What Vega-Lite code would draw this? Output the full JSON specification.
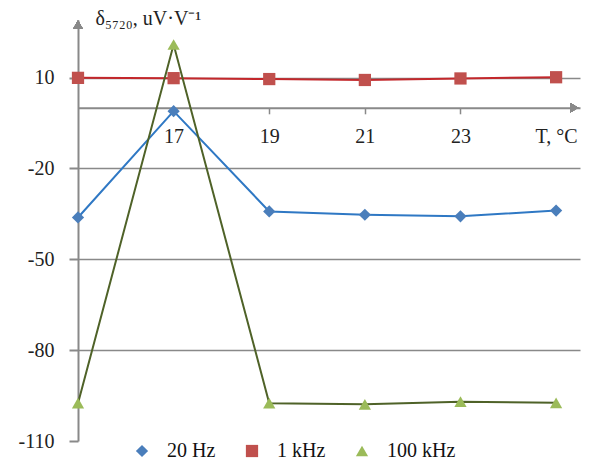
{
  "$schema": "https://vega.github.io/schema/vega-lite/v6.json",
  "width": 502,
  "height": 421,
  "autosize": {"type": "none"},
  "padding": {"left": 78, "top": 20, "right": 11, "bottom": 20},
  "background": "white",
  "config": {
    "view": {"stroke": null},
    "font": "Liberation Serif",
    "legend": {"labelFont": "Liberation Serif", "labelFontSize": 20, "labelColor": "#111", "labelOffset": 15, "columnPadding": 26, "symbolSize": 150, "symbolStrokeWidth": 1.5}
  },
  "data": {
    "values": [
      {"series": "20 Hz", "T": 15, "value": -36.2},
      {"series": "20 Hz", "T": 17, "value": -1.1},
      {"series": "20 Hz", "T": 19, "value": -34.2},
      {"series": "20 Hz", "T": 21, "value": -35.3},
      {"series": "20 Hz", "T": 23, "value": -35.8},
      {"series": "20 Hz", "T": 25, "value": -33.9},
      {"series": "1 kHz", "T": 15, "value": 9.9},
      {"series": "1 kHz", "T": 17, "value": 9.8},
      {"series": "1 kHz", "T": 19, "value": 9.5},
      {"series": "1 kHz", "T": 21, "value": 9.2},
      {"series": "1 kHz", "T": 23, "value": 9.7},
      {"series": "1 kHz", "T": 25, "value": 10.1},
      {"series": "100 kHz", "T": 15, "value": -97.5},
      {"series": "100 kHz", "T": 17, "value": 20.9},
      {"series": "100 kHz", "T": 19, "value": -97.5},
      {"series": "100 kHz", "T": 21, "value": -97.9},
      {"series": "100 kHz", "T": 23, "value": -97.0},
      {"series": "100 kHz", "T": 25, "value": -97.4}
    ]
  },
  "encoding": {
    "x": {
      "field": "T", "type": "quantitative",
      "scale": {"domain": [15, 25.5], "nice": false, "zero": false},
      "axis": {
        "title": null,
        "values": [17, 19, 21, 23, 25],
        "offset": -333.2,
        "labelExpr": "datum.value == 25 ? 'T, °C' : datum.label",
        "labelDx": {"expr": "datum.value == 25 ? 8 : 0"},
        "domainColor": "#898989", "domainWidth": 2,
        "tickColor": "#898989", "tickWidth": 1.5, "tickSize": 6,
        "tickOpacity": {"condition": {"test": "datum.value == 25", "value": 0}, "value": 1},
        "labelFont": "Liberation Serif", "labelFontSize": 20, "labelColor": "#222",
        "labelPadding": 13, "grid": false
      }
    },
    "y": {
      "field": "value", "type": "quantitative",
      "scale": {"domain": [-110, 29], "nice": false, "zero": false},
      "axis": {
        "title": "δ₅₇₂₀, uV·V⁻¹",
        "values": [-110, -80, -50, -20, 10],
        "labelExpr": "'' + datum.value",
        "domainColor": "#898989", "domainWidth": 2,
        "tickColor": "#898989", "tickWidth": 2, "tickSize": 9,
        "labelFont": "Liberation Serif", "labelFontSize": 20, "labelColor": "#222",
        "labelPadding": 15,
        "grid": true, "gridColor": "#898989", "gridWidth": 1.5,
        "gridOpacity": {"condition": {"test": "datum.value == -110", "value": 0}, "value": 1},
        "titleAngle": 0, "titleFont": "Liberation Serif", "titleFontSize": 20,
        "titleFontWeight": "normal", "titleColor": "#222",
        "titleAlign": "left", "titleBaseline": "middle", "titleX": 17, "titleY": -2
      }
    }
  },
  "layer": [
    {
      "mark": {"type": "line", "strokeWidth": 2},
      "encoding": {
        "stroke": {
          "field": "series", "type": "nominal",
          "scale": {"domain": ["1 kHz", "20 Hz", "100 kHz"], "range": ["#C3272B", "#2F78C4", "#4F6228"]},
          "legend": null
        }
      }
    },
    {
      "mark": {"type": "point", "filled": true, "opacity": 1, "size": 150},
      "encoding": {
        "fill": {
          "field": "series", "type": "nominal",
          "scale": {"domain": ["20 Hz", "1 kHz", "100 kHz"], "range": ["#4A7EBB", "#C0504D", "#9BBB59"]},
          "legend": {
            "orient": "none", "legendX": 54, "legendY": 421,
            "direction": "horizontal", "title": null,
            "labelFont": "Liberation Serif", "labelFontSize": 20, "labelColor": "#111",
            "labelOffset": 15, "columnPadding": 26, "symbolSize": 150, "symbolStrokeWidth": 1.5,
            "encode": {
              "symbols": {
                "update": {
                  "shape": {"signal": "datum.value == '20 Hz' ? 'M-2.9,0H2.9M-1,0L0,-1L1,0L0,1Z' : datum.value == '1 kHz' ? 'M-2.9,0H2.9M-0.95,-0.95H0.95V0.95H-0.95Z' : 'M-2.9,0H2.9M0,-1L1,0.75H-1Z'"},
                  "stroke": {"signal": "scale('fill', datum.value)"},
                  "strokeWidth": {"value": 1.5},
                  "opacity": {"value": 1}
                }
              }
            }
          }
        },
        "shape": {
          "field": "series", "type": "nominal",
          "scale": {"domain": ["20 Hz", "1 kHz", "100 kHz"], "range": ["diamond", "square", "triangle-up"]},
          "legend": {
            "orient": "none", "legendX": 54, "legendY": 421,
            "direction": "horizontal", "title": null,
            "labelFont": "Liberation Serif", "labelFontSize": 20, "labelColor": "#111",
            "labelOffset": 15, "columnPadding": 26, "symbolSize": 150, "symbolStrokeWidth": 1.5,
            "encode": {
              "symbols": {
                "update": {
                  "shape": {"signal": "datum.value == '20 Hz' ? 'M-2.9,0H2.9M-1,0L0,-1L1,0L0,1Z' : datum.value == '1 kHz' ? 'M-2.9,0H2.9M-0.95,-0.95H0.95V0.95H-0.95Z' : 'M-2.9,0H2.9M0,-1L1,0.75H-1Z'"},
                  "stroke": {"signal": "scale('fill', datum.value)"},
                  "strokeWidth": {"value": 1.5},
                  "opacity": {"value": 1}
                }
              }
            }
          }
        }
      }
    },
    {
      "mark": {"type": "point", "filled": true, "shape": "triangle-up", "size": 90, "color": "#898989", "opacity": 1},
      "encoding": {"x": {"datum": 15}, "y": {"datum": 27.5}}
    },
    {
      "mark": {"type": "point", "filled": true, "shape": "triangle-right", "size": 90, "color": "#898989", "opacity": 1},
      "encoding": {"x": {"datum": 25.38}, "y": {"datum": 0}}
    }
  ]
}
